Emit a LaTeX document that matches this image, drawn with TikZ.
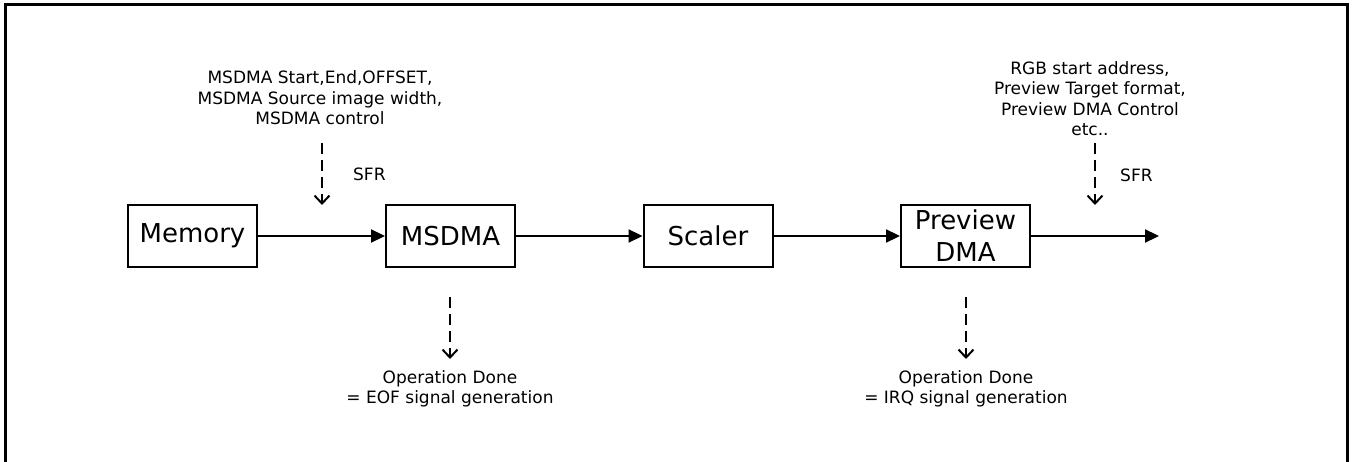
\documentclass[tikz,border=0pt]{standalone}
\usepackage{fontspec}
\setmainfont{DejaVu Sans}
\usetikzlibrary{arrows.meta}
\begin{document}
\begin{tikzpicture}[x=1pt,y=-1pt,
  blk/.style={draw,line width=2pt,inner sep=0pt,minimum width=129pt,minimum height=62pt,
    font=\fontsize{26}{32}\selectfont,align=center},
  note/.style={align=center,font=\fontsize{17}{20.5}\selectfont,inner sep=0pt},
  flow/.style={line width=2.2pt,-{Triangle[length=14pt,width=13pt]}},
  ctl/.style={line width=2.6pt,dash pattern=on 11pt off 6pt,-{Straight Barb[length=8pt,width=15pt,line width=2pt]}}]
\useasboundingbox (0,0) rectangle (1354,462);
\draw[line width=3pt] (5,470) -- (5,5) -- (1347,5) -- (1347,470);
\node[blk] (mem) at (192.5,236) {Memory};
\node[blk] (ms) at (450.5,236) {MSDMA};
\node[blk] (sc) at (708,236) {Scaler};
\node[blk] (pv) at (965.5,236) {Preview\\DMA};
\coordinate (out) at (1159,236);
\draw[flow] (mem) -- (ms);
\draw[flow] (ms) -- (sc);
\draw[flow] (sc) -- (pv);
\draw[flow] (pv) -- (out);
% top-left SFR
\node[note] (t1) at (320,98) {MSDMA Start,End,OFFSET,\\MSDMA Source image width,\\MSDMA control};
\coordinate (s1a) at (322,143);
\coordinate (s1b) at (322,205);
\draw[ctl] (s1a) -- (s1b);
\node[note,anchor=west] (sfr1) at (353,174) {SFR};
% top-right SFR
\node[note] (t2) at (1090,98.5) {RGB start address,\\Preview Target format,\\Preview DMA Control\\etc..};
\coordinate (s2a) at (1095,143);
\coordinate (s2b) at (1095,205);
\draw[ctl] (s2a) -- (s2b);
\node[note,anchor=west] (sfr2) at (1120,175) {SFR};
% bottom
\coordinate (b1a) at (450,297);
\coordinate (b1b) at (450,359);
\draw[ctl] (b1a) -- (b1b);
\node[note] (d1) at (450,389) {Operation Done\\= EOF signal generation};
\coordinate (b2a) at (966,297);
\coordinate (b2b) at (966,359);
\draw[ctl] (b2a) -- (b2b);
\node[note] (d2) at (966,389) {Operation Done\\= IRQ signal generation};
\end{tikzpicture}
\end{document}
